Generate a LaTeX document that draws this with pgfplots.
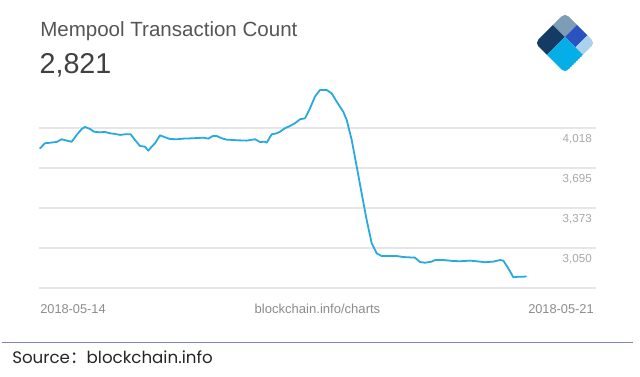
\documentclass[border=0pt]{standalone}
\usepackage{pgfplots}
\pgfplotsset{compat=1.18}
\usepackage{fontspec}
\setmainfont{Liberation Sans}
\newfontfamily\srcfont{Poppins}
\newfontfamily\cjk{Noto Sans CJK SC}
\definecolor{linec}{HTML}{2AA8E0}
\definecolor{gridc}{HTML}{E6E6E6}
\definecolor{tickc}{HTML}{A8A8A8}
\definecolor{datec}{HTML}{8C8C8C}
\definecolor{titlec}{HTML}{555555}
\definecolor{bigc}{HTML}{404040}
\definecolor{rulec}{HTML}{8080C8}
\definecolor{lgnavy}{HTML}{153A63}
\definecolor{lggrey}{HTML}{7D9DB6}
\definecolor{lgmid}{HTML}{2C52C2}
\definecolor{lglight}{HTML}{A9D3EC}
\definecolor{lgcyan}{HTML}{06AEE8}
\begin{document}
\begin{tikzpicture}
\useasboundingbox[fill=white] (0,0) rectangle (480pt,282.75pt);
% titles
\node[anchor=base west, inner sep=0pt, text=titlec, font=\fontsize{15.4}{18}\selectfont] at (30pt,255.2pt) {Mempool Transaction Count};
\node[anchor=base west, inner sep=0pt, text=bigc, font=\fontsize{21.5}{25}\selectfont] at (29.5pt,227.25pt) {2,821};
% logo
\begin{scope}[shift={(401.25pt,250.5pt)}, x={(22.5pt,22.5pt)}, y={(22.5pt,-22.5pt)}]
\clip[rounded corners=3.5pt] (0,0) -- (1,0) -- (1,1) -- (0,1) -- cycle;
\fill[lgnavy] (0,0) -- (0.6,0) -- (0.6,0.4) -- (0,0.4) -- cycle;
\fill[lggrey] (0.6,0) -- (1,0) -- (1,0.4) -- (0.6,0.4) -- cycle;
\fill[lgmid] (0.6,0.4) -- (1,0.4) -- (1,0.75) -- (0.6,0.75) -- cycle;
\fill[lglight] (0.6,0.75) -- (1,0.75) -- (1,1) -- (0.6,1) -- cycle;
\fill[lgcyan] (0,0.4) -- (0.6,0.4) -- (0.6,1) -- (0,1) -- cycle;
\end{scope}
\begin{axis}[
  at={(29.25pt,66.75pt)}, anchor=south west,
  scale only axis, width=417.75pt, height=156pt,
  xmin=0, xmax=7, ymin=2727.33, ymax=4405,
  axis line style={draw=none},
  major tick style={draw=none},
  xtick=\empty,
  ytick={2727.33,3050,3372.67,3695.33,4018},
  yticklabels={{},{3,050},{3,373},{3,695},{4,018}},
  yticklabel pos=right,
  yticklabel style={anchor=base east, inner sep=0pt, xshift=-3pt, yshift=-11.25pt, text=tickc, font=\fontsize{8.7}{10}\selectfont},
  ymajorgrids,
  grid style={draw=gridc, line width=1pt},
  clip=false,
]
\addplot[color=linec, line width=1.35pt, line join=round, line cap=round] coordinates {
(0.013,3854) (0.075,3895) (0.138,3899) (0.222,3905) (0.285,3927) (0.348,3916)
(0.411,3907) (0.474,3962) (0.537,4010) (0.578,4026) (0.641,4010) (0.691,3988)
(0.767,3983) (0.829,3986) (0.892,3975) (0.955,3970) (1.018,3962) (1.081,3967)
(1.152,3967) (1.206,3921) (1.269,3873) (1.332,3867) (1.374,3835) (1.416,3867)
(1.458,3895) (1.521,3959) (1.584,3943) (1.646,3929) (1.731,3927) (1.813,3932)
(1.939,3935) (2.065,3940) (2.128,3932) (2.183,3953) (2.233,3953) (2.296,3935)
(2.359,3924) (2.485,3919) (2.610,3916) (2.715,3927) (2.777,3905) (2.840,3907)
(2.862,3899) (2.924,3967) (2.987,3975) (3.029,3988) (3.092,4016) (3.154,4034)
(3.217,4056) (3.280,4088) (3.343,4096) (3.406,4177) (3.468,4271) (3.531,4324)
(3.616,4324) (3.678,4298) (3.741,4230) (3.824,4149) (3.867,4083) (3.930,3921)
(3.993,3706) (4.055,3491) (4.118,3276) (4.181,3088) (4.244,3007) (4.307,2985)
(4.411,2985) (4.495,2985) (4.578,2977) (4.725,2972) (4.788,2937) (4.851,2931)
(4.935,2940) (4.977,2953) (5.081,2953) (5.207,2945) (5.291,2943) (5.417,2948)
(5.542,2940) (5.605,2935) (5.709,2940) (5.794,2953) (5.835,2948) (5.898,2886)
(5.961,2814) (6.024,2818) (6.086,2818) (6.120,2821)
};
\end{axis}
% bottom labels
\node[anchor=base west, inner sep=0pt, text=datec, font=\fontsize{9.6}{11}\selectfont] at (30pt,47.6pt) {2018-05-14};
\node[anchor=base, inner sep=0pt, text=datec, font=\fontsize{9.8}{11}\selectfont] at (238.1pt,47.6pt) {blockchain.info/charts};
\node[anchor=base east, inner sep=0pt, text=datec, font=\fontsize{9.6}{11}\selectfont] at (445.5pt,47.6pt) {2018-05-21};
% rule and source
\draw[rulec, line width=1.1pt] (1.5pt,25.7pt) -- (474.75pt,25.7pt);
\node[anchor=base west, inner sep=0pt, text=black!85, font=\fontsize{12.5}{15}\selectfont\srcfont] at (9pt,10.25pt) {Source{\cjk ：}blockchain.info};
\end{tikzpicture}
\end{document}
